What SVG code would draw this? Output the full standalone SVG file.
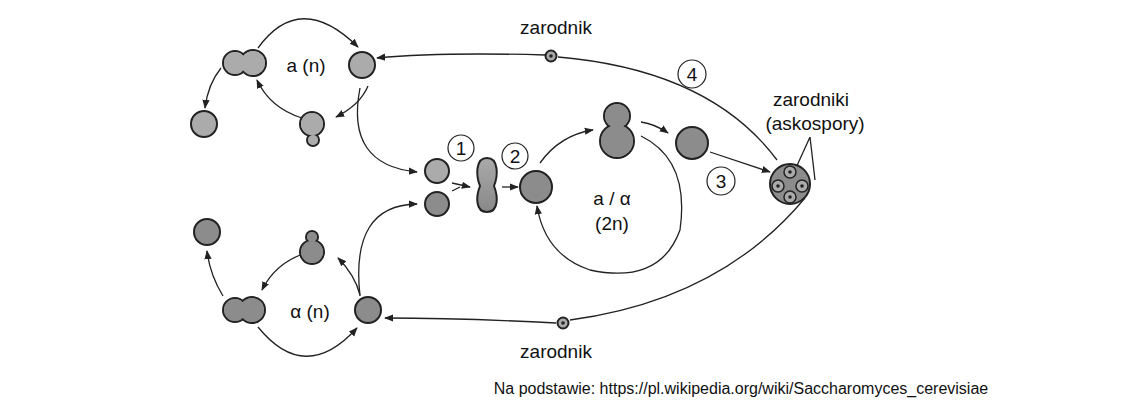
<svg xmlns="http://www.w3.org/2000/svg" width="1146" height="409" viewBox="0 0 1146 409">
<defs>
<marker id="ah" viewBox="0 0 10 10" refX="9" refY="5" markerWidth="7" markerHeight="7" orient="auto"><path d="M0,1 L10,5 L0,9 z" fill="#222"/></marker>
<linearGradient id="fz" x1="0" y1="0" x2="0" y2="1"><stop offset="0" stop-color="#aaa"/><stop offset="1" stop-color="#888"/></linearGradient>
</defs>
<style>
.l{fill:#ababab;stroke:#222;stroke-width:2}
.d{fill:#8c8c8c;stroke:#222;stroke-width:2}
.lf{fill:#ababab}
.df{fill:#8c8c8c}
.c{fill:none;stroke:#222;stroke-width:1.3}
.a{fill:none;stroke:#222;stroke-width:1.3;marker-end:url(#ah)}
.n{fill:#fff;stroke:#222;stroke-width:1.2}
text{font-family:"Liberation Sans",Arial,sans-serif;fill:#111}
.t{font-size:19px;text-anchor:middle}
</style>
<rect width="1146" height="409" fill="#fff"/>
<g id="connectors">
<path class="a" d="M258,48 Q300,-10 358,47"/>
<path class="a" d="M368,86 Q360,105 336,117"/>
<path class="a" d="M302,118 Q270,108 257,80"/>
<path class="a" d="M221,68 Q208,84 205,108"/>
<path class="a" d="M360,88 Q345,165 417,172"/>
<path class="a" d="M303,254 Q275,264 262,290"/>
<path class="a" d="M360,295 Q355,275 338,258"/>
<path class="a" d="M258,327 Q305,385 357,328"/>
<path class="a" d="M223,296 Q210,275 207,251"/>
<path class="a" d="M360,296 Q350,205 417,204"/>
<path class="a" d="M452,183 L470,187"/>
<path class="c" d="M452,191 L460,187"/>
<path class="a" d="M502,187 L518,187"/>
<path class="a" d="M540,163 Q560,135 593,130"/>
<path class="a" d="M641,122 Q655,124 668,133"/>
<path class="a" d="M641,136 Q690,160 680,230 Q660,285 590,270 Q545,255 537,206"/>
<path class="a" d="M710,152 L770,172"/>
<path class="c" d="M777,160 Q710,70 558,57"/>
<path class="a" d="M545,55 Q440,52 377,58"/>
<path class="c" d="M805,198 Q720,300 570,320"/>
<path class="a" d="M556,323 Q460,318 385,318"/>
<path class="c" d="M810,137 L795,170 M810,137 L815,180"/>
</g>
<g id="top-cycle">
<circle class="l" cx="235" cy="63" r="12"/><circle class="l" cx="253" cy="63" r="13"/><circle class="lf" cx="235" cy="63" r="11"/><circle class="lf" cx="253" cy="63" r="12"/>
<circle class="l" cx="362" cy="65" r="13"/>
<circle class="l" cx="313" cy="140" r="6"/><circle class="l" cx="312" cy="124" r="12"/><circle class="lf" cx="313" cy="140" r="5"/><circle class="lf" cx="312" cy="124" r="11"/>
<circle class="l" cx="204" cy="124" r="13"/>
<text x="306" y="72" class="t">a (n)</text>
</g>
<g id="bottom-cycle">
<circle class="d" cx="207" cy="232" r="13"/>
<circle class="d" cx="312" cy="237" r="6"/><circle class="d" cx="312" cy="252" r="12"/><circle class="df" cx="312" cy="237" r="5"/><circle class="df" cx="312" cy="252" r="11"/>
<circle class="d" cx="235" cy="310" r="12"/><circle class="d" cx="252" cy="310" r="13"/><circle class="df" cx="235" cy="310" r="11"/><circle class="df" cx="252" cy="310" r="12"/>
<circle class="d" cx="368" cy="310" r="13"/>
<text x="310" y="318" class="t">α (n)</text>
</g>
<g id="zygote">
<circle class="l" cx="437" cy="171" r="12"/>
<circle class="d" cx="437" cy="204" r="12"/>
<path d="M487,158 C499,158 498,176 494,186 C498,196 499,212 487,212 C475,212 476,196 480,186 C476,176 475,158 487,158 Z" fill="url(#fz)" stroke="#222" stroke-width="2"/>
<circle class="n" cx="461" cy="148" r="13"/><text x="461" y="155" class="t">1</text>
<circle class="n" cx="515" cy="156" r="13"/><text x="515" y="163" class="t">2</text>
<circle class="d" cx="536" cy="187" r="16"/>
</g>
<g id="diploid">
<circle class="d" cx="617" cy="116" r="13"/><circle class="d" cx="617" cy="141" r="17"/><circle class="df" cx="617" cy="116" r="12"/><circle class="df" cx="617" cy="141" r="16"/>
<circle class="d" cx="692" cy="143" r="16"/>
<text x="612" y="205" class="t">a / α</text>
<text x="612" y="230" class="t">(2n)</text>
<circle class="n" cx="721" cy="181" r="14"/><text x="721" y="188" class="t">3</text>
<circle class="n" cx="692" cy="74" r="14"/><text x="692" y="81" class="t">4</text>
</g>
<g id="ascus">
<circle class="d" cx="790" cy="184" r="20"/>
<g fill="#aaa" stroke="#222" stroke-width="1.5">
<circle cx="790" cy="172" r="6"/><circle cx="778" cy="186" r="6"/><circle cx="802" cy="186" r="6"/><circle cx="790" cy="197" r="6"/>
</g>
<g fill="#222"><circle cx="790" cy="172" r="1.8"/><circle cx="778" cy="186" r="1.8"/><circle cx="802" cy="186" r="1.8"/><circle cx="790" cy="197" r="1.8"/></g>
<text x="811" y="106" class="t">zarodniki</text>
<text x="815" y="130" class="t">(askospory)</text>
</g>
<g id="spore-top">
<circle cx="551" cy="56" r="5.5" fill="#aaa" stroke="#222" stroke-width="2"/><circle cx="551" cy="56" r="1.8" fill="#222"/>
<text x="556" y="34" class="t">zarodnik</text>
</g>
<g id="spore-bottom">
<circle cx="563" cy="323" r="5.5" fill="#aaa" stroke="#222" stroke-width="2"/><circle cx="563" cy="323" r="1.8" fill="#222"/>
<text x="556" y="358" class="t">zarodnik</text>
</g>
<text x="741" y="394" font-size="16" text-anchor="middle">Na podstawie: https://pl.wikipedia.org/wiki/Saccharomyces_cerevisiae</text>
</svg>
